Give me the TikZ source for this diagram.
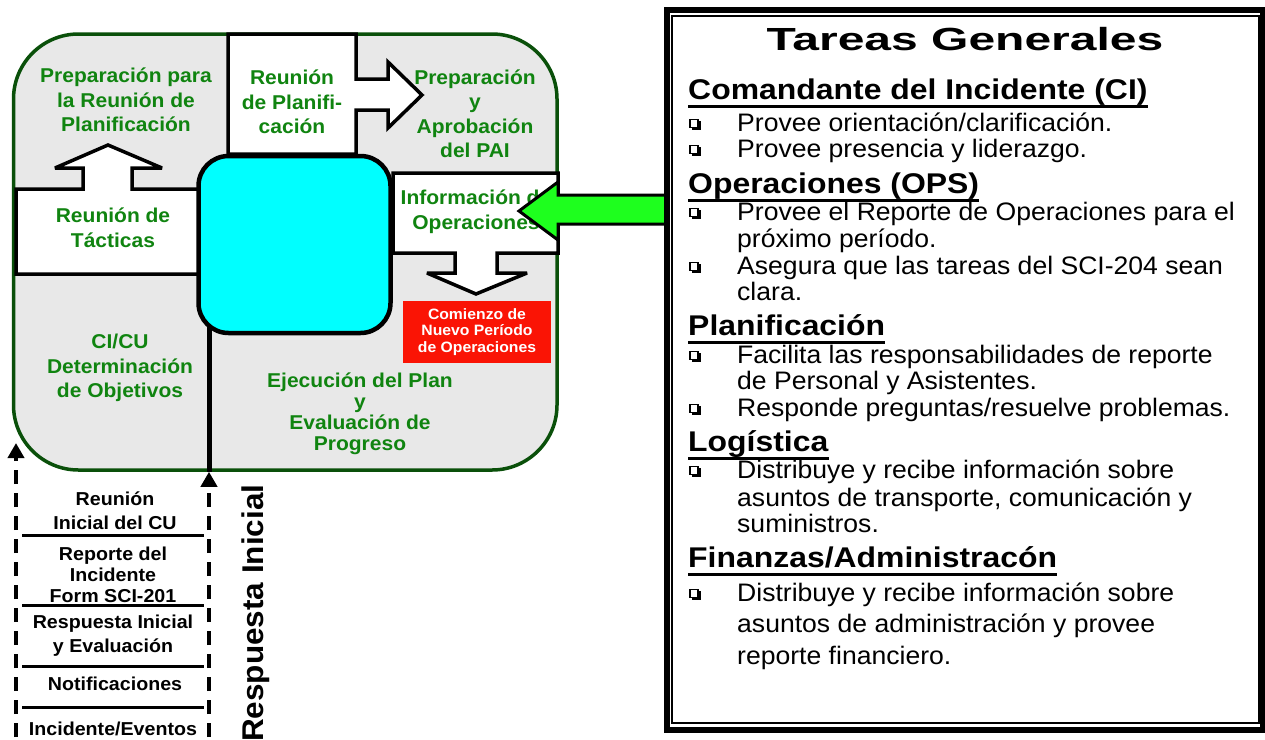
\documentclass[tikz,border=0pt]{standalone}
\usepackage{fontspec}
\setmainfont{Liberation Sans}[FakeStretch=1.05]
\newfontfamily\headfont{Liberation Sans}[FakeStretch=1.12]
\newfontfamily\titlefont{Liberation Sans}[FakeStretch=1.5]
\usetikzlibrary{arrows.meta}

\definecolor{ringgray}{RGB}{232,232,232}
\definecolor{ringgreen}{RGB}{10,80,10}
\definecolor{labgreen}{RGB}{16,132,16}
\definecolor{boxcyan}{RGB}{0,255,255}
\definecolor{startred}{RGB}{250,20,5}
\definecolor{arrowgreen}{RGB}{30,255,30}

\tikzset{
  ringbox/.style={draw=ringgreen, fill=ringgray, line width=3.5pt, rounded corners=65pt,
    minimum width=543.5pt, minimum height=436pt, inner sep=0pt},
  wbox/.style={draw=black, fill=white, line width=3.5pt, line join=miter, miter limit=4},
  cyanbox/.style={draw=black, fill=boxcyan, line width=4.5pt, rounded corners=30pt,
    minimum width=192pt, minimum height=177pt, inner sep=0pt},
  glabel/.style={text=labgreen, align=center, inner sep=0pt,
    font=\bfseries\fontsize{20}{24.5}\selectfont},
  klabel/.style={text=black, align=center, inner sep=0pt,
    font=\bfseries\fontsize{18.7}{24}\selectfont},
  redbox/.style={fill=startred, text=white, align=center, inner sep=0pt,
    minimum width=148pt, minimum height=62pt,
    font=\bfseries\fontsize{15}{16.5}\selectfont},
  garrow/.style={draw=black, fill=arrowgreen, line width=3pt, line join=miter, miter limit=4},
  sepline/.style={line width=3pt},
  dasharrow/.style={line width=4pt, dash pattern=on 14pt off 9pt,
    -{Triangle[length=15pt,width=16pt]}},
  hdtext/.style={anchor=base west, inner sep=0pt,
    font=\headfont\bfseries\fontsize{28.5}{30}\selectfont},
  bdtext/.style={anchor=base west, inner sep=0pt,
    font=\fontsize{25.3}{27}\selectfont},
  uline/.style={line width=3pt},
  sqbullet/.pic={
    \draw[fill=white, line width=1.4pt] (0,0) rectangle (8,8);
    \draw[line width=2.6pt] (9.4,1.6) -- (9.4,9.4) -- (1.6,9.4);
  }
}

\begin{document}
\begin{tikzpicture}[x=1pt,y=-1pt]
\useasboundingbox (0,0) rectangle (1265,739);
\clip (0,0) rectangle (1265,739);

% planning cycle background
\node[ringbox] (ring) at (285.25,252) {};

% initial response line running into the cycle
\coordinate (rtop) at (209,318);
\draw[line width=5pt] (rtop) -- (rtop |- ring.south);

% white stage boxes with their arrows
\draw[wbox] (228,34) -- (356,34) -- (356,79) -- (388,79) -- (388,62) -- (422,95)
  -- (388,128) -- (388,110) -- (356,110) -- (356,154) -- (228,154) -- cycle;
\draw[wbox] (16,189) -- (83,189) -- (83,168) -- (55,168) -- (108,145) -- (162,168)
  -- (132,168) -- (132,189) -- (199,189) -- (199,274) -- (16,274) -- cycle;
\draw[wbox] (393,173) -- (558,173) -- (558,253) -- (497,253) -- (497,273) -- (527,273)
  -- (476,294) -- (427,273) -- (455,273) -- (455,253) -- (393,253) -- cycle;

% central box
\node[cyanbox] (plan) at (294.5,244.5) {};

% stage labels
\node[glabel] (prep) at (126,100) {Preparación para\\la Reunión de\\Planificación};
\node[glabel] (reunplan) at (292,102) {Reunión\\de Planifi-\\cación};
\node[glabel] (aprob) at (475,114) {Preparación\\y\\Aprobación\\del PAI};
\node[glabel] (tact) at (113,228) {Reunión de\\Tácticas};
\node[glabel] (infoops) at (476,211.5) {Información de\\Operaciones};
\node[glabel] (objet) at (120,368) {CI/CU\\Determinación\\de Objetivos};
\node[glabel, font=\bfseries\fontsize{20}{21}\selectfont] (ejec) at (360,414)
  {Ejecución del Plan\\y\\Evaluación de\\Progreso};

% incoming arrow from the task panel
\draw[garrow] (666,195) -- (558,195) -- (558,182) -- (519,211) -- (558,240)
  -- (558,224) -- (666,224);

% start of a new period
\node[redbox] (nuevo) at (477,332) {Comienzo de\\Nuevo Período\\de Operaciones};

% initial response steps
\draw[sepline] (22,535) -- (204,535);
\draw[sepline] (22,605) -- (204,605);
\draw[sepline] (22,666) -- (204,666);
\draw[sepline] (22,707) -- (204,707);
\node[klabel] (s1) at (115,511) {Reunión\\Inicial del CU};
\node[klabel, font=\bfseries\fontsize{18.7}{21}\selectfont] (s2) at (113,575)
  {Reporte del\\Incidente\\Form SCI-201};
\node[klabel] (s3) at (113,636) {Respuesta Inicial\\y Evaluación};
\node[klabel] (s4) at (115,684) {Notificaciones};
\node[klabel] (s5) at (113,729) {Incidente/Eventos};

\coordinate (lbot) at (16,760);
\coordinate (ltop) at (16,443);
\draw[dasharrow] (lbot) -- (ltop);
\coordinate (rbot) at (209,760);
\draw[dasharrow] (rbot) -- (rbot |- ring.south);

\node[rotate=90, anchor=base west, inner sep=0pt,
  font=\bfseries\fontsize{30}{32}\selectfont] (resp) at (263,742) {Respuesta Inicial};

% task panel
\draw[line width=6pt] (666.5,10) rectangle (1262.5,730);
\draw[line width=2pt] (672,16) rectangle (1259,723);

\node[anchor=base, inner sep=0pt, font=\titlefont\bfseries\fontsize{32}{34}\selectfont]
  (title) at (965,50) {Tareas Generales};

\node[hdtext] (h1) at (688,99) {Comandante del Incidente (CI)};
\node[bdtext] (b1) at (737,131) {Provee orientación/clarificación.};
\node[bdtext] (b2) at (737,157) {Provee presencia y liderazgo.};

\node[hdtext] (h2) at (688,193) {Operaciones (OPS)};
\node[bdtext] (b3) at (737,220) {Provee el Reporte de Operaciones para el};
\node[bdtext] (b3b) at (737,247) {próximo período.};
\node[bdtext] (b4) at (737,274) {Asegura que las tareas del SCI-204 sean};
\node[bdtext] (b4b) at (737,300) {clara.};

\node[hdtext] (h3) at (688,335) {Planificación};
\node[bdtext] (b5) at (737,363) {Facilita las responsabilidades de reporte};
\node[bdtext] (b5b) at (737,389) {de Personal y Asistentes.};
\node[bdtext] (b6) at (737,416) {Responde preguntas/resuelve problemas.};

\node[hdtext] (h4) at (688,451) {Logística};
\node[bdtext] (b7) at (737,478) {Distribuye y recibe información sobre};
\node[bdtext] (b7b) at (737,506) {asuntos de transporte, comunicación y};
\node[bdtext] (b7c) at (737,532) {suministros.};

\node[hdtext] (h5) at (688,567) {Finanzas/Administracón};
\node[bdtext] (b8) at (737,601) {Distribuye y recibe información sobre};
\node[bdtext] (b8b) at (737,632) {asuntos de administración y provee};
\node[bdtext] (b8c) at (737,664) {reporte financiero.};

\foreach \h in {h1,h2,h3,h4,h5}
  \draw[uline] ([yshift=-7pt]\h.base west) -- ([yshift=-7pt]\h.base east);

\foreach \yb in {131,157,220,274,363,416,478,601}
  \pic at (690,\yb-11.5) {sqbullet};
\end{tikzpicture}
\end{document}
